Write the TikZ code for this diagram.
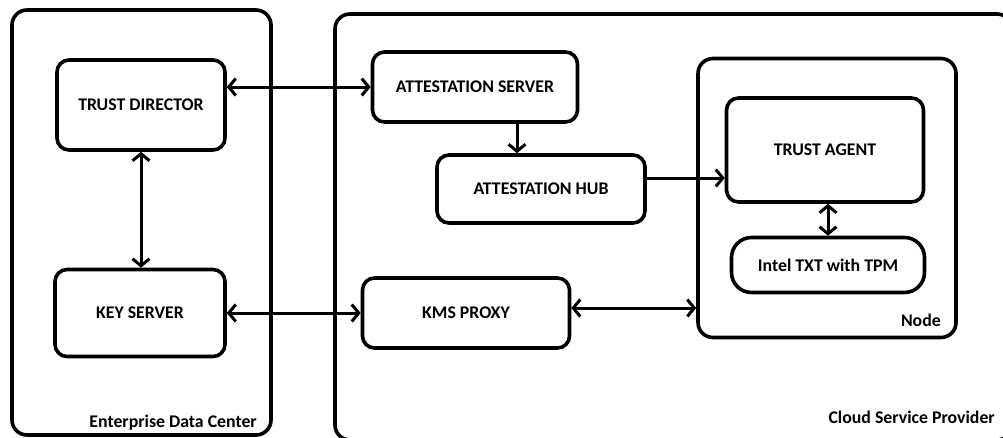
\documentclass[tikz,border=0pt]{standalone}
\usepackage{fontspec}
\setmainfont{Carlito}
\usetikzlibrary{arrows.meta}
\tikzset{
  box/.style={draw, line width=3.6pt, rounded corners=12pt, align=center,
    font=\fontsize{17.8}{21}\selectfont\bfseries},
  region/.style={draw, line width=3.6pt, rounded corners=15pt},
  caption/.style={font=\fontsize{17.8}{21}\selectfont\bfseries, inner sep=0pt},
  barb/.tip={Straight Barb[length=7pt,width=17pt]},
  link/.style={line width=3pt, barb-barb},
  flow/.style={line width=3pt, -barb},
}
\begin{document}
\begin{tikzpicture}[x=1pt,y=-1pt]
\useasboundingbox (0,0) rectangle (1003,437);

% enclosing regions
\draw[region] (12,10) rectangle (271,435);
\draw[region] (335,14) rectangle (1012,440);
\node[caption, anchor=east] (edc) at (257,423) {Enterprise Data Center};
\node[caption, anchor=east] (csp) at (995,417) {Cloud Service Provider};

% enterprise side
\node[box, minimum width=168pt, minimum height=90pt] (td) at (141,105) {TRUST DIRECTOR};
\node[box, minimum width=170pt, minimum height=87pt] (ks) at (140,313) {KEY SERVER};

% cloud side
\node[box, minimum width=205pt, minimum height=70pt] (as) at (475,87) {ATTESTATION SERVER};
\node[box, minimum width=208pt, minimum height=68pt] (ah) at (541,189) {ATTESTATION HUB};
\node[box, minimum width=207pt, minimum height=70pt] (kms) at (466,313) {KMS PROXY};

% compute node
\node[region, minimum width=258pt, minimum height=279pt] (nd) at (827,198) {};
\node[caption, anchor=east] (ndl) at (941,320) {Node};
\node[box, minimum width=197pt, minimum height=104pt] (ta) at (825,150) {TRUST AGENT};
\node[box, rounded corners=20pt, minimum width=193pt, minimum height=55pt] (txt) at (828,265) {Intel TXT with TPM};

% connections
\draw[link] (td.east |- as.west) -- (as.west);
\draw[link] (td.south) -- (td.south |- ks.north);
\draw[link] (ks.east) -- (ks.east -| kms.west);
\draw[flow] ([xshift=42pt]as.south) -- ([xshift=42pt]as.south |- ah.north);
\draw[flow] ([yshift=11pt]ah.east) -- ([yshift=11pt]ah.east -| ta.west);
\draw[link] ([yshift=5pt]kms.east) -- ([yshift=5pt]kms.east -| nd.west);
\draw[link] (txt.north |- ta.south) -- (txt.north);
\end{tikzpicture}
\end{document}
